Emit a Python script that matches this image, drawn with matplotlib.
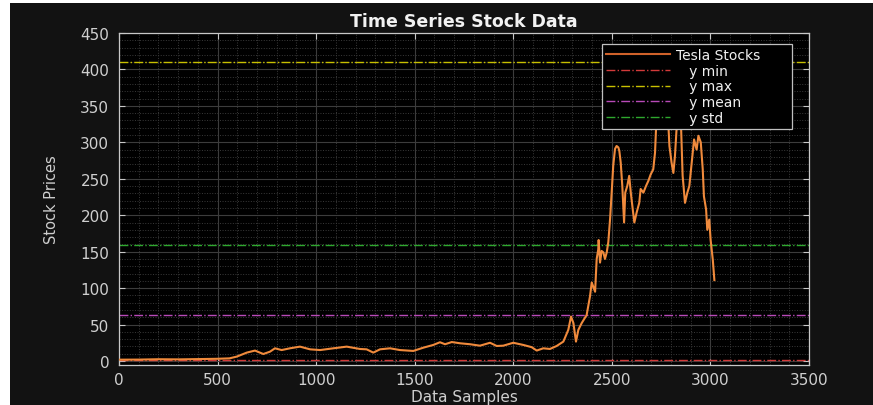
import numpy as np
import matplotlib
matplotlib.use('Agg')
import matplotlib.pyplot as plt
from matplotlib.patches import Rectangle
from matplotlib.ticker import MultipleLocator

# closing prices read at sample index
samples = [0, 100, 200, 300, 400, 495, 560, 597, 625, 648, 690, 710, 732, 766, 791,
           825, 867, 918, 969, 1020, 1087, 1155, 1222, 1256, 1290, 1324, 1375, 1425,
           1493, 1544, 1594, 1628, 1654, 1688, 1730, 1780, 1831, 1882, 1916, 1949,
           2000, 2051, 2093, 2119, 2152, 2186, 2220, 2254, 2279, 2293, 2305, 2318,
           2330, 2347, 2372, 2389, 2398, 2415, 2423, 2431, 2433, 2440, 2448, 2457,
           2465, 2474, 2482, 2491, 2499, 2507, 2516, 2524, 2533, 2538, 2545, 2553,
           2562, 2568, 2578, 2588, 2596, 2606, 2614, 2626, 2639, 2646, 2660, 2673,
           2685, 2697, 2710, 2719, 2724, 2732, 2740, 2746, 2752, 2758, 2763, 2770,
           2778, 2786, 2792, 2803, 2812, 2820, 2829, 2836, 2843, 2850, 2859, 2871,
           2883, 2893, 2905, 2917, 2930, 2939, 2951, 2961, 2967, 2978, 2984, 2994,
           3001, 3012, 3020]
prices = [1.8, 1.9, 2.4, 2.2, 2.6, 3.0, 3.6, 6.0, 9.0, 11.5, 14.3, 12.0, 9.6, 12.8, 17.4,
          15.0, 17.4, 19.7, 16.0, 15.0, 17.4, 19.7, 16.5, 16.0, 11.5, 16.0, 17.4, 15.0,
          13.8, 18.3, 22.0, 25.7, 23.0, 26.0, 24.3, 23.0, 21.0, 25.0, 20.6, 21.0,
          25.0, 22.0, 19.0, 14.3, 17.4, 16.5, 20.6, 26.6, 42.7, 61.0, 52.0, 26.6,
          42.7, 52.0, 63.0, 88.5, 107.7, 95.0, 140.0, 153.0, 166.0, 135.0, 151.0, 149.0,
          140.0, 149.0, 163.0, 195.0, 231.0, 268.0, 291.0, 295.0, 293.0, 288.0, 272.0, 240.0,
          190.0, 231.0, 240.0, 254.0, 231.0, 208.0, 190.0, 204.0, 217.0, 236.0, 231.0, 240.0,
          247.0, 256.0, 263.0, 286.0, 318.0, 360.0, 392.0, 370.0, 409.97, 372.0, 330.0, 350.0,
          340.0, 328.0, 295.0, 272.0, 258.0, 281.0, 322.0, 345.0, 365.0, 330.0, 254.0, 217.0,
          231.0, 240.0, 272.0, 304.0, 290.0, 309.0, 300.0, 263.0, 226.0, 208.0, 180.0, 194.0,
          166.0, 139.0, 111.0]

# summary levels
y_min = 2.0
y_max = 409.97
y_mean = 63.0
y_std = 159.0

fig = plt.figure(figsize=(8.73, 4.06), dpi=100, facecolor='white')
fig.add_artist(Rectangle((10 / 873, 0), 1 - 10 / 873, 1 - 4 / 406,
                         transform=fig.transFigure, facecolor='#121212',
                         edgecolor='none', zorder=-10))
ax = fig.add_axes([119 / 873, 1 - 366 / 406, 690 / 873, 332 / 406])
ax.set_facecolor('black')

ax.plot(samples, prices, color='#f08a3c', lw=1.5, label='Tesla Stocks', zorder=3)
ax.axhline(y_min, color='#d23a3a', ls='-.', lw=1.0, label='   y min', zorder=2)
ax.axhline(y_max, color='#c8c000', ls='-.', lw=1.0, label='   y max', zorder=2)
ax.axhline(y_mean, color='#b84ab8', ls='-.', lw=1.0, label='   y mean', zorder=2)
ax.axhline(y_std, color='#2ea82e', ls='-.', lw=1.0, label='   y std', zorder=2)

ax.set_xlim(0, 3500)
ax.set_ylim(-5.5, 450)
ax.xaxis.set_major_locator(MultipleLocator(500))
ax.xaxis.set_minor_locator(MultipleLocator(100))
ax.yaxis.set_major_locator(MultipleLocator(50))
ax.yaxis.set_minor_locator(MultipleLocator(10))

ax.grid(which='major', color='#3c3c3c', lw=0.8, ls='-')
ax.grid(which='minor', color='#3a3a3a', lw=0.7, ls=':')
ax.set_axisbelow(True)

for s in ax.spines.values():
    s.set_color('#c8c8c8')
    s.set_linewidth(0.9)

ax.tick_params(which='major', direction='in', length=4, width=0.8, color='#c8c8c8',
               top=True, right=True, labelcolor='#cfcfcf', labelsize=11)
ax.tick_params(axis='x', pad=5)
ax.tick_params(axis='y', pad=7)
ax.tick_params(which='minor', length=0)

ax.set_title('Time Series Stock Data', color='#f2f2f2', fontsize=12.5,
             fontweight='bold', pad=5)
ax.set_xlabel('Data Samples', color='#cfcfcf', fontsize=11, va='center')
ax.xaxis.set_label_coords(0.5, (366 - 397.5) / 332)
ax.set_ylabel('Stock Prices', color='#cfcfcf', fontsize=10.5, va='center')
ax.yaxis.set_label_coords((52 - 119) / 690, 0.5)

leg = ax.legend(loc='upper left', bbox_to_anchor=(602 / 873, 1 - 128 / 406, 190 / 873, 83 / 406),
                bbox_transform=fig.transFigure, mode='expand', fontsize=10,
                facecolor='black', edgecolor='#c0c0c0', framealpha=1, fancybox=False,
                handlelength=4.6, handletextpad=0.45, borderpad=0.3, labelspacing=0.12,
                borderaxespad=0)
leg.get_frame().set_linewidth(0.9)
leg.set_zorder(5)
leg.get_lines()[0].set_color('#d0622a')
for t in leg.get_texts():
    t.set_color('#f0f0f0')

fig.savefig('out.png', dpi=100, facecolor=fig.get_facecolor())
